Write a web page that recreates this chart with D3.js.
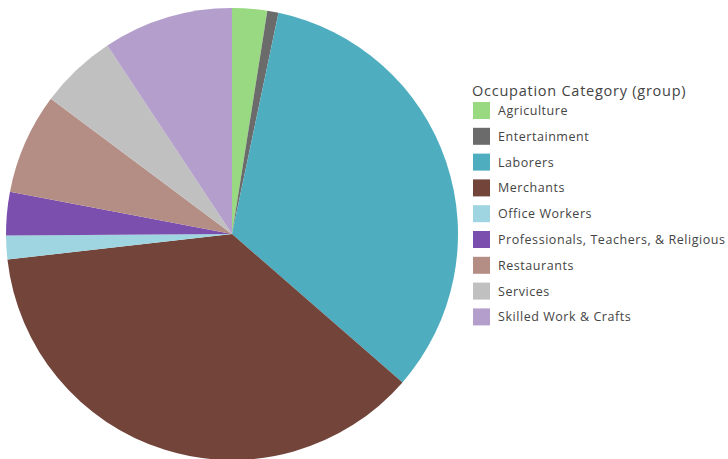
<!DOCTYPE html>
<html>
<head>
<meta charset="utf-8">
<script src="https://cdn.jsdelivr.net/npm/d3@7"></script>
<style>
  body { margin: 0; background: #fff; }
  svg { display: block; }
  text { font-family: "Open Sans", "Noto Sans", sans-serif; fill: #444; }
</style>
</head>
<body>
<svg id="chart" width="728" height="459"></svg>
<script>
(function (d3) {
	"use strict";

	/***** Data *****/
	const categories = ["Agriculture", "Entertainment", "Laborers", "Merchants", "Office Workers",
		"Professionals, Teachers, & Religious", "Restaurants", "Services", "Skilled Work & Crafts"];
	const shares = [2.5, 0.8, 33.1, 36.8, 1.7, 3.1, 7.2, 5.5, 9.3];
	const colors = ["#98d982", "#6b6b6b", "#4fadc0", "#72443a", "#9ed5e0",
		"#7b4fae", "#b48e84", "#c0c0c0", "#b49fcc"];
	const legendTitle = "Occupation Category (group)";

	/***** Layout *****/
	const cx = 232, cy = 234, radius = 226;
	const legendX = 473, legendY = 98, rowH = 25.8;

	var svg = d3.select("#chart");
	var color = d3.scaleOrdinal().domain(categories).range(colors);

	var pie = d3.pie().sort(null).value(function (d) { return d.value; });
	var arc = d3.arc().innerRadius(0).outerRadius(radius);

	var data = categories.map(function (c, i) { return { name: c, value: shares[i] }; });

	// Slices
	svg.append("g")
		.attr("transform", "translate(" + cx + "," + cy + ")")
		.selectAll("path")
		.data(pie(data))
		.join("path")
		.attr("d", arc)
		.attr("fill", function (d) { return color(d.data.name); });

	// Legend
	var legend = svg.append("g").attr("transform", "translate(" + legendX + "," + legendY + ")");

	legend.append("text")
		.attr("x", -1)
		.attr("y", -2)
		.attr("font-size", 14.5)
		.attr("letter-spacing", 0.75)
		.text(legendTitle);

	var rows = legend.selectAll("g.row")
		.data(categories)
		.join("g")
		.attr("class", "row")
		.attr("transform", function (d, i) { return "translate(0," + (i * rowH + 4) + ")"; });

	rows.append("rect")
		.attr("width", 17)
		.attr("height", 17)
		.attr("fill", function (d) { return color(d); });

	rows.append("text")
		.attr("x", 25)
		.attr("y", 13)
		.attr("font-size", 12.5)
		.attr("letter-spacing", 0.55)
		.text(function (d) { return d; });

})(d3);
</script>
</body>
</html>
